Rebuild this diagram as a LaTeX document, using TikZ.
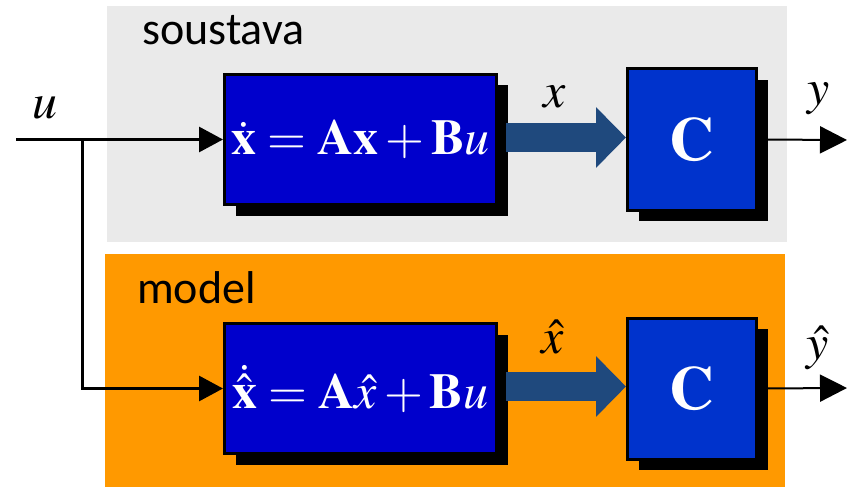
\documentclass[tikz,border=0pt]{standalone}
\usepackage{mathptmx}
\usepackage[no-math]{fontspec}
\setmainfont{Liberation Serif}
\newfontfamily\labelfont{Carlito}
\usetikzlibrary{arrows.meta,positioning,shadows}
\definecolor{plantbg}{RGB}{234,234,234}
\definecolor{modelbg}{RGB}{255,153,0}
\definecolor{eqblue}{RGB}{0,0,204}
\definecolor{cblue}{RGB}{0,51,204}
\definecolor{statearr}{RGB}{31,73,125}

\begin{document}
\begin{tikzpicture}[x=1pt, y=-1pt,
  blk/.style={draw, line width=3pt, inner sep=0pt, text=white,
              drop shadow={shadow xshift=11pt, shadow yshift=-11pt, fill=black, opacity=1}},
  eqbox/.style={blk, fill=eqblue, minimum width=272pt, minimum height=130pt,
                font=\fontsize{50}{60}\selectfont},
  cbox/.style={blk, fill=cblue, minimum width=129pt, minimum height=141pt,
               font=\fontsize{62}{70}\selectfont},
  lbl/.style={inner sep=0pt, anchor=base, font=\fontsize{50}{60}\selectfont},
  title/.style={inner sep=0pt, anchor=base west, font=\labelfont\fontsize{46}{55}\selectfont},
  sig/.style={line width=3pt, -{Triangle[length=24pt, width=25pt]}},
  outsig/.style={line width=2pt, -{Triangle[length=27pt, width=27pt]}},
  state/.style={statearr, line width=29pt, -{Triangle[length=30pt, width=59pt]}}]
  \useasboundingbox (0,0) rectangle (857,487);
  \fill[plantbg] (107,6) rectangle (787,242);
  \fill[modelbg] (105,254) rectangle (785,487);
  \node[title] (plant) at (142,45) {soustava};
  \node[title] (mdl) at (137,303) {model};
  \node[eqbox] (eq1) at (360.5,139.5) {$\dot{\mathbf{x}}=\mathbf{Ax}+\mathbf{B}u$};
  \node[cbox, right=128pt of eq1] (c1) {$\mathbf{C}$};
  \node[eqbox, below=116pt of eq1] (eq2) {$\dot{\hat{\mathbf{x}}}=\mathbf{A}\hat{x}+\mathbf{B}u$};
  \node[cbox, right=128pt of eq2] (c2) {$\mathbf{C}$};
  \node[lbl] (ulbl) at (45,118) {$u$};
  \node[lbl] (xlbl) at (555,107) {$x$};
  \node[lbl] (xhlbl) at (553,353) {$\hat{x}$};
  \node[lbl] (ylbl) at (819,104) {$y$};
  \node[lbl] (yhlbl) at (818,359) {$\hat{y}$};
  \coordinate (in) at (16,139.5);
  \coordinate (br) at (82,139.5);
  \coordinate (y1) at (847,140);
  \coordinate (y2) at (847,388);
  \draw[sig] (in) -- (eq1.west); \draw[sig] (br) |- (eq2.west);
  \draw[state] ([xshift=8pt, yshift=2pt]eq1.east) -- ([yshift=2pt]c1.west);
  \draw[state] ([xshift=8pt, yshift=2pt]eq2.east) -- ([yshift=2pt]c2.west);
  \draw[outsig] (c1.east) -- (y1); \draw[outsig] (c2.east) -- (y2);
\end{tikzpicture}
\end{document}
